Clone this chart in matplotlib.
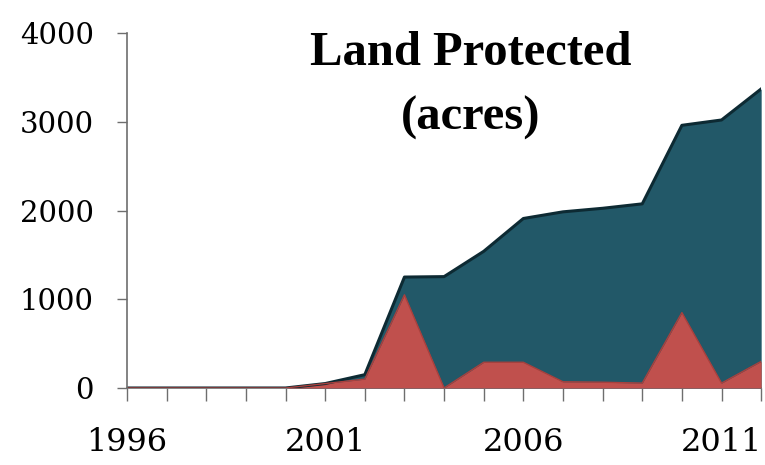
import matplotlib.pyplot as plt

# data
years = list(range(1996, 2013))
cumulative = [0, 0, 0, 0, 0, 50, 150, 1250, 1255, 1540, 1910, 1985, 2025, 2075, 2960, 3020, 3370]
annual = [0, 0, 0, 0, 0, 50, 100, 1050, 0, 290, 290, 70, 65, 55, 850, 55, 300]
label_years = [1996, 2001, 2006, 2011]

teal = '#225868'
red = '#c0504d'

fig = plt.figure(figsize=(7.65, 4.65), dpi=100)
ax = fig.add_axes([0.166, 0.1656, 0.829, 0.7634])

# cumulative area with dark edge, annual area drawn over it
ax.fill_between(years, cumulative, 0, color=teal, lw=0)
ax.plot(years, cumulative, color='#0d2a33', lw=2.2)
ax.fill_between(years, annual, 0, color=red, lw=0)
ax.plot(years, annual, color='#a8403d', lw=1)

ax.set_xlim(1996, 2012)
ax.set_ylim(0, 4000)

for s in ['top', 'right']:
    ax.spines[s].set_visible(False)
for s in ['left', 'bottom']:
    ax.spines[s].set_color('#6e6e6e')
    ax.spines[s].set_linewidth(1.2)
ax.spines['bottom'].set_zorder(0)

ax.set_yticks([0, 1000, 2000, 3000, 4000])
ax.set_xticks(years)
ax.set_xticklabels([str(y) if y in label_years else '' for y in years])

tick_font = 'DejaVu Serif'
ax.tick_params(axis='y', length=7, width=1, color='#6e6e6e', pad=17, labelsize=21)
ax.tick_params(axis='x', length=9, width=1, color='#6e6e6e', pad=19, labelsize=23)
for lab in ax.get_xticklabels() + ax.get_yticklabels():
    lab.set_fontfamily(tick_font)

# title, two lines placed by baseline
title_font = 'Liberation Serif'
fig.text(0.6157, 0.860, 'Land Protected', ha='center', va='baseline',
         fontsize=35, fontweight='bold', fontfamily=title_font)
fig.text(0.6157, 0.7204, '(acres)', ha='center', va='baseline',
         fontsize=35, fontweight='bold', fontfamily=title_font)

fig.savefig('out.png')
